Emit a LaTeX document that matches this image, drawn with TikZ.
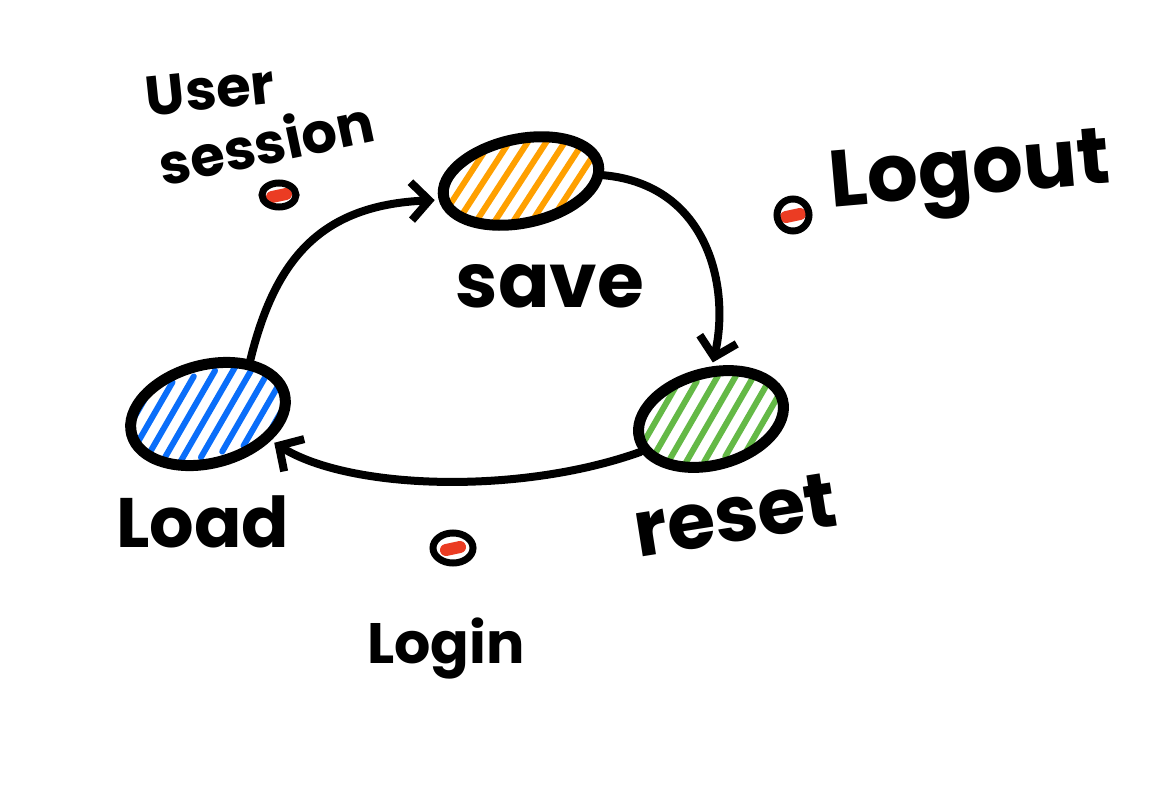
\documentclass[tikz,border=0pt]{standalone}
\usepackage{fontspec}
\setmainfont{Poppins}
\usetikzlibrary{shapes.geometric,arrows.meta}
\definecolor{hblue}{RGB}{10,110,250}
\definecolor{horange}{RGB}{255,160,0}
\definecolor{hgreen}{RGB}{100,185,70}
\definecolor{hred}{RGB}{235,60,35}
\begin{document}
\begin{tikzpicture}[x=1pt,y=-1pt,
  state/.style={ellipse, draw=black, line width=11pt, fill=white, inner sep=0pt},
  hatch/.style={path picture={\foreach \i in {-6,...,6}{\draw[#1, line width=6pt, line cap=round] ([xshift=\i*22pt-40pt, yshift=-40pt]path picture bounding box.center) -- ++(80pt,80pt);}}},
  dot/.style={ellipse, draw=black, line width=7pt, fill=white, inner sep=0pt,
    path picture={\draw[hred, line width=12pt, line cap=round] ([shift={(-7pt,-2pt)}]path picture bounding box.center) -- ++(14pt,3pt);}},
  conn/.style={line width=8pt, line cap=round, -{Straight Barb[length=18pt,width=38pt,line width=8pt]}, shorten >=4pt},
  lbl/.style={font=\bfseries\fontsize{#1}{#1}\selectfont, inner sep=0pt},
]
\useasboundingbox (0,0) rectangle (1156,787);
\fill[white] (0,0) rectangle (1156,787);

\node[state, hatch=horange, minimum width=158pt, minimum height=84pt, rotate=12] (save) at (521,181) {};
\node[state, hatch=hblue, minimum width=158pt, minimum height=98pt, rotate=15] (load) at (208,414) {};
\node[state, hatch=hgreen, minimum width=148pt, minimum height=92pt, rotate=15] (reset) at (711,419) {};

\node[dot, minimum width=34pt, minimum height=24pt] (d1) at (279,195) {};
\node[dot, minimum width=32pt, minimum height=32pt] (d2) at (793,215) {};
\node[dot, minimum width=40pt, minimum height=30pt] (d3) at (453,548) {};

\draw[conn] (load.37) .. controls (275,260) and (320,205) .. (save.181);
\draw[conn] (save.-8) .. controls (710,185) and (730,290) .. (reset.74);
\draw[conn] (reset.190) .. controls (520,495) and (350,490) .. (load.-38);

\node[lbl=56, rotate=6] (user) at (210,90) {User};
\node[lbl=56, rotate=12] (session) at (266,142) {session};
\node[lbl=80, rotate=5] (logout) at (970,178) {Logout};
\node[lbl=76] (savet) at (550,286) {save};
\node[lbl=70] (loadt) at (203,522) {Load};
\node[lbl=78, rotate=9] (resett) at (735,515) {reset};
\node[lbl=57] (login) at (446,648) {Login};
\end{tikzpicture}
\end{document}
